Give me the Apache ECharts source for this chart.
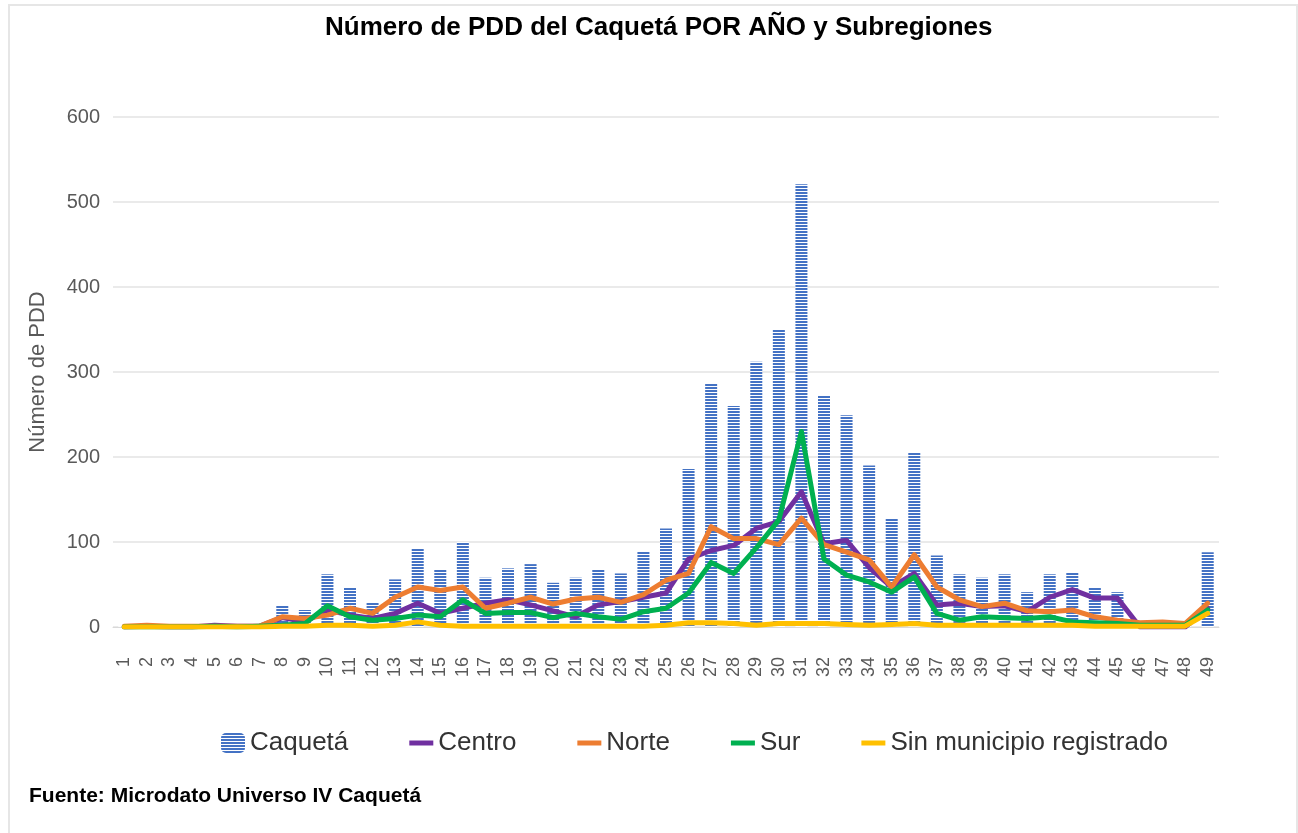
<!DOCTYPE html>
<html>
<head>
<meta charset="utf-8">
<script src="https://cdn.jsdelivr.net/npm/echarts@6/dist/echarts.min.js"></script>
<style>
html,body{margin:0;padding:0;background:#fff;}
#chart{width:1298px;height:833px;}
</style>
</head>
<body>
<div id="chart"></div>
<script>
var categories = ['1','2','3','4','5','6','7','8','9','10','11','12','13','14','15','16','17','18','19','20','21','22','23','24','25','26','27','28','29','30','31','32','33','34','35','36','37','38','39','40','41','42','43','44','45','46','47','48','49'];
var caqueta = [1,2,1,1,4,2,3,25,20,62,47,29,56,93,68,100,58,69,74,52,58,68,63,89,116,186,287,260,312,350,521,272,249,190,127,206,84,62,58,62,41,62,64,46,41,5,6,4,88];
var centro = [0,1,0,0,2,1,1,11,6,20,14,10,16,28,16,22,28,32,26,19,12,26,30,35,40,80,90,96,116,124,159,98,102,70,47,63,26,28,24,25,18,35,44,34,34,0,0,0,22];
var norte = [1,2,1,1,1,1,1,12,10,14,22,16,35,47,43,47,22,28,35,27,33,35,29,38,55,63,118,104,104,97,128,97,88,79,47,85,47,32,24,28,19,18,20,12,8,5,6,4,28];
var sur = [0,0,0,0,1,0,1,2,4,25,12,8,10,14,12,32,16,17,17,11,16,12,9,18,22,40,76,63,93,126,230,80,61,53,41,59,16,8,12,11,10,12,6,5,4,2,2,2,20];
var sinMunicipio = [0,0,0,0,0,0,0,1,1,2,2,1,2,6,2,1,1,1,1,1,1,1,1,1,2,5,5,4,2,4,4,4,3,2,3,4,2,2,2,2,2,2,2,1,1,1,1,1,16];
var yTicks = [0,100,200,300,400,500,600];

var FONT = '"Liberation Sans", Arial, sans-serif';
var LINE_ICON = 'path://M0,0H24V5H0Z';
var chart = echarts.init(document.getElementById('chart'), null, {renderer:'canvas'});

function lineSeries(name, data, color){
  return {
    name: name, type: 'line', data: data, showSymbol: false, symbol: 'none',
    lineStyle: {color: color, width: 5, cap: 'round', join: 'round'},
    itemStyle: {color: color},
    emphasis: {disabled: true}
  };
}

chart.setOption({
  animation: false,
  backgroundColor: '#ffffff',
  title: {
    text: 'Número de PDD del Caquetá POR AÑO y Subregiones',
    left: 320, top: 10,
    textStyle: {fontFamily: FONT, fontSize: 26, fontWeight: 'bold', color: '#000000'}
  },
  grid: {left: 113, right: 79, top: 117, bottom: 206},
  legend: {
    left: 216, top: 725, itemGap: 61, itemWidth: 24, itemHeight: 20,
    textStyle: {fontFamily: FONT, fontSize: 26, color: '#333333'},
    data: [
      {name: 'Caquetá'},
      {name: 'Centro', icon: LINE_ICON},
      {name: 'Norte', icon: LINE_ICON},
      {name: 'Sur', icon: LINE_ICON},
      {name: 'Sin municipio registrado', icon: LINE_ICON}
    ]
  },
  xAxis: {
    type: 'category', data: categories, boundaryGap: true,
    axisTick: {show: false},
    axisLine: {lineStyle: {color: '#D9D9D9', width: 1}},
    axisLabel: {rotate: 90, interval: 0, margin: 30, fontFamily: FONT, fontSize: 18, color: '#595959'}
  },
  yAxis: {
    type: 'value', min: yTicks[0], max: yTicks[yTicks.length-1], interval: 100,
    name: 'Número de PDD', nameLocation: 'middle', nameGap: 64,
    nameTextStyle: {fontFamily: FONT, fontSize: 22, color: '#595959'},
    axisLine: {show: false}, axisTick: {show: false},
    axisLabel: {margin: 13, fontFamily: FONT, fontSize: 20, color: '#595959'},
    splitLine: {lineStyle: {color: '#E3E3E3', width: 1.5}}
  },
  series: [
    {
      name: 'Caquetá', type: 'bar', data: caqueta, barWidth: 12,
      itemStyle: {
        color: '#ffffff',
        decal: {symbol: 'rect', symbolSize: 1, dashArrayX: [1, 0], dashArrayY: [2, 1], rotation: 0, color: '#4472C4'}
      },
      emphasis: {disabled: true}
    },
    lineSeries('Centro', centro, '#7030A0'),
    lineSeries('Norte', norte, '#ED7D31'),
    lineSeries('Sur', sur, '#00B050'),
    lineSeries('Sin municipio registrado', sinMunicipio, '#FFC000')
  ],
  graphic: [
    {type: 'rect', silent: true, z: -1, shape: {x: 9, y: 5, width: 1288, height: 840},
     style: {fill: 'none', stroke: '#E6E6E6', lineWidth: 2}},
    {type: 'text', left: 29, top: 786,
     style: {text: 'Fuente: Microdato Universo IV Caquetá', font: 'bold 21px "Liberation Sans", Arial, sans-serif', fill: '#000000'}}
  ]
});
</script>
</body>
</html>
